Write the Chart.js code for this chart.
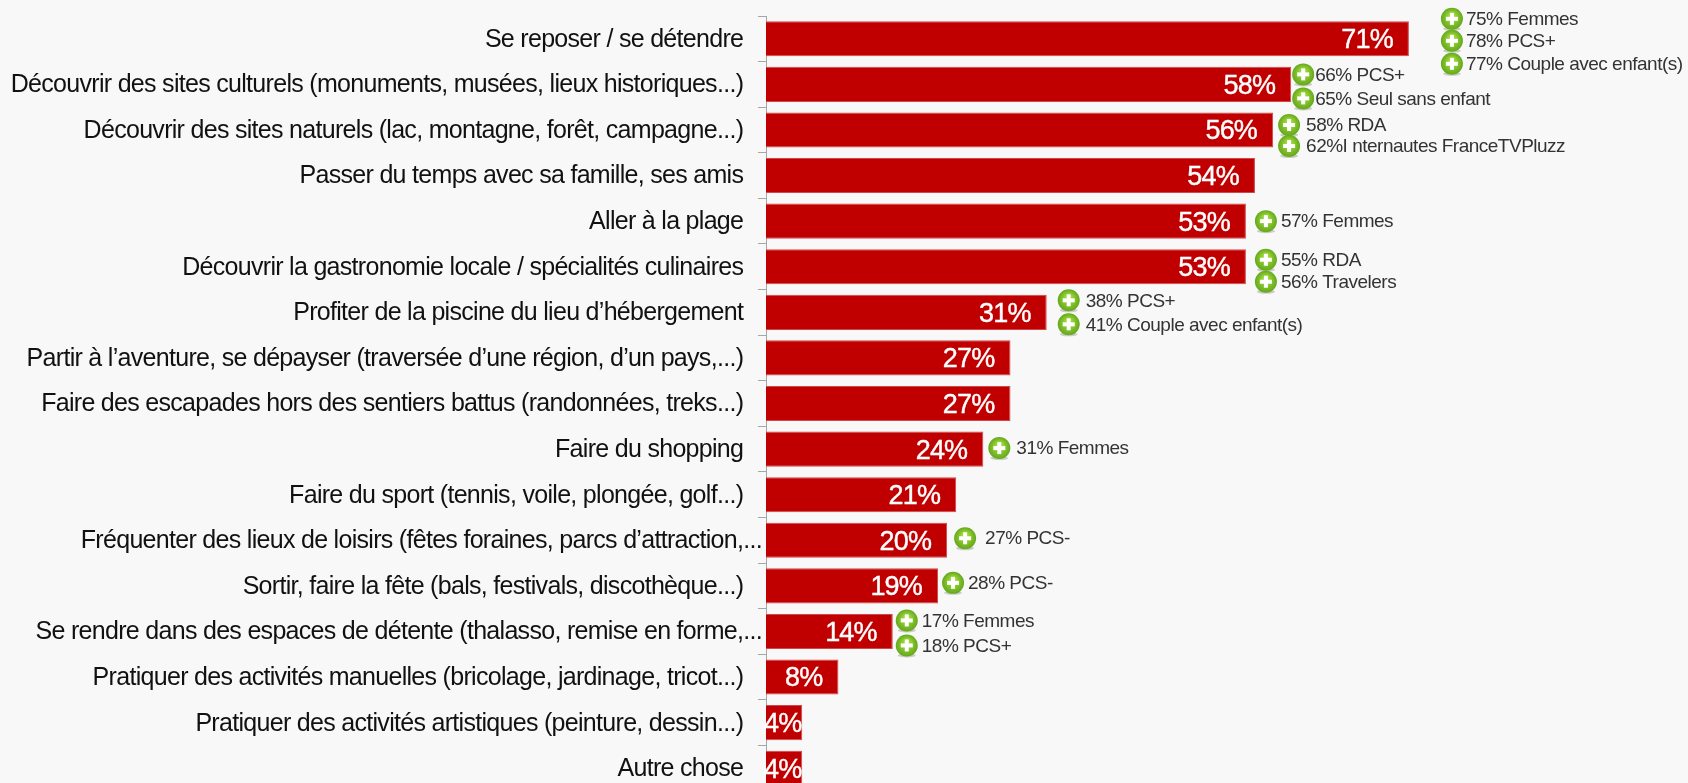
<!DOCTYPE html>
<html>
<head>
<meta charset="utf-8">
<style>
  html, body { margin: 0; padding: 0; background: #f8f8f8; overflow: hidden; }
  canvas { display: block; }
</style>
<script src="https://cdn.jsdelivr.net/npm/chart.js@4"></script>
</head>
<body>
<canvas id="myChart" width="1688" height="802"></canvas>
<script>
const categories = [
  "Se reposer / se détendre",
  "Découvrir des sites culturels (monuments, musées, lieux historiques...)",
  "Découvrir des sites naturels (lac, montagne, forêt, campagne...)",
  "Passer du temps avec sa famille, ses amis",
  "Aller à la plage",
  "Découvrir la gastronomie locale / spécialités culinaires",
  "Profiter de la piscine du lieu d’hébergement",
  "Partir à l’aventure, se dépayser (traversée d’une région, d’un pays,...)",
  "Faire des escapades hors des sentiers battus (randonnées, treks...)",
  "Faire du shopping",
  "Faire du sport (tennis, voile, plongée, golf...)",
  "Fréquenter des lieux de loisirs (fêtes foraines, parcs d’attraction,...",
  "Sortir, faire la fête (bals, festivals, discothèque...)",
  "Se rendre dans des espaces de détente (thalasso, remise en forme,...",
  "Pratiquer des activités manuelles (bricolage, jardinage, tricot...)",
  "Pratiquer des activités artistiques (peinture, dessin...)",
  "Autre chose",
];
const values = [71, 58, 56, 54, 53, 53, 31, 27, 27, 24, 21, 20, 19, 14, 8, 4, 4];

// green "+" notes next to the bars
const noteBars = [0, 0, 0, 1, 1, 2, 2, 4, 5, 5, 6, 6, 9, 11, 12, 13, 13];
const noteTexts = [
  "75% Femmes", "78% PCS+", "77% Couple avec enfant(s)",
  "66% PCS+", "65% Seul sans enfant",
  "58% RDA", "62%I nternautes FranceTVPluzz",
  "57% Femmes",
  "55% RDA", "56% Travelers",
  "38% PCS+", "41% Couple avec enfant(s)",
  "31% Femmes",
  "27% PCS-",
  "28% PCS-",
  "17% Femmes", "18% PCS+",
];
// offsets of each note from the end and middle of its bar, and of its text from the icon
const noteDx = [43, 43, 43, 12, 12, 16, 16, 20, 20, 20, 22, 22, 16, 18, 15, 14, 14];
const noteDy = [-20, 2, 25, -10, 14, -5, 16, 0, -7, 15, -12, 12, -1, -2, -3, -11, 14];
const noteGap = [14, 14, 14, 12, 12, 17, 17, 15, 15, 15, 17, 17, 17, 20, 15, 15, 15];

const fontName = '"Liberation Sans", Arial, sans-serif';
const noEllipsisPad = "\u00a0\u00a0\u00a0";

const tightText = {
  id: "tightText",
  beforeDraw(chart) {
    chart.ctx.letterSpacing = "-0.7px";
  },
};

const barLabels = {
  id: "barLabels",
  afterDatasetsDraw(chart) {
    const ctx = chart.ctx;
    const bars = chart.getDatasetMeta(0).data;
    ctx.save();
    ctx.font = "27px " + fontName;
    ctx.letterSpacing = "-0.8px";
    ctx.fillStyle = "#ffffff";
    ctx.strokeStyle = "#ffffff";
    ctx.lineWidth = 0.4;
    ctx.textAlign = "right";
    ctx.textBaseline = "middle";
    bars.forEach((bar, i) => {
      const label = values[i] + "%";
      const w = ctx.measureText(label).width;
      const x = Math.max(bar.x - 16, chart.chartArea.left + w - 2);
      ctx.fillText(label, x, bar.y + 2);
      ctx.strokeText(label, x, bar.y + 2);
    });
    ctx.restore();
  },
};

function drawPlus(ctx, x, y) {
  ctx.fillStyle = "rgba(120,120,110,0.35)";
  ctx.beginPath();
  ctx.ellipse(x, y + 10, 9, 2, 0, 0, Math.PI * 2);
  ctx.fill();
  const g = ctx.createRadialGradient(x, y - 3, 2, x, y, 11);
  g.addColorStop(0, "#a4dc3c");
  g.addColorStop(1, "#64a81c");
  ctx.fillStyle = g;
  ctx.beginPath();
  ctx.arc(x, y, 11, 0, Math.PI * 2);
  ctx.fill();
  ctx.fillStyle = "#ffffff";
  ctx.fillRect(x - 6, y - 2, 12, 4);
  ctx.fillRect(x - 2, y - 6, 4, 12);
}

const notes = {
  id: "notes",
  afterDatasetsDraw(chart) {
    const ctx = chart.ctx;
    const bars = chart.getDatasetMeta(0).data;
    ctx.save();
    ctx.font = "19px " + fontName;
    ctx.letterSpacing = "-0.5px";
    ctx.textAlign = "left";
    ctx.textBaseline = "middle";
    noteTexts.forEach((text, i) => {
      const bar = bars[noteBars[i]];
      const x = bar.x + noteDx[i];
      const y = bar.y + noteDy[i];
      drawPlus(ctx, x, y);
      ctx.fillStyle = "#333333";
      ctx.fillText(text, x + noteGap[i], y + 1);
    });
    ctx.restore();
  },
};

const ctx = document.getElementById("myChart").getContext("2d");
const myChart = new Chart(ctx, {
  type: "bar",
  data: {
    labels: categories,
    datasets: [
      {
        data: values,
        backgroundColor: "#c00000",
        borderColor: "#d0484a",
        borderWidth: 1,
        categoryPercentage: 1,
        barPercentage: 0.77,
      },
    ],
  },
  plugins: [tightText, barLabels, notes],
  options: {
    indexAxis: "y",
    responsive: false,
    animation: false,
    layout: { padding: { top: 16, right: 16.5, bottom: 0.5, left: 0 } },
    plugins: { legend: { display: false }, tooltip: { enabled: false } },
    scales: {
      x: { display: false, min: 0, max: 100 },
      y: {
        afterFit(scale) {
          scale.width = 766;
        },
        border: { display: true, color: "#a6a6a6", width: 1 },
        grid: { drawOnChartArea: false, color: "#a6a6a6", tickLength: 8, offset: true },
        ticks: {
          autoSkip: false,
          padding: -4,
          labelOffset: 1,
          color: "#111111",
          font: { family: fontName, size: 25 },
          callback(value, i) {
            const label = categories[i];
            return label.endsWith(",...") ? label : label + noEllipsisPad;
          },
        },
      },
    },
  },
});
</script>
</body>
</html>
